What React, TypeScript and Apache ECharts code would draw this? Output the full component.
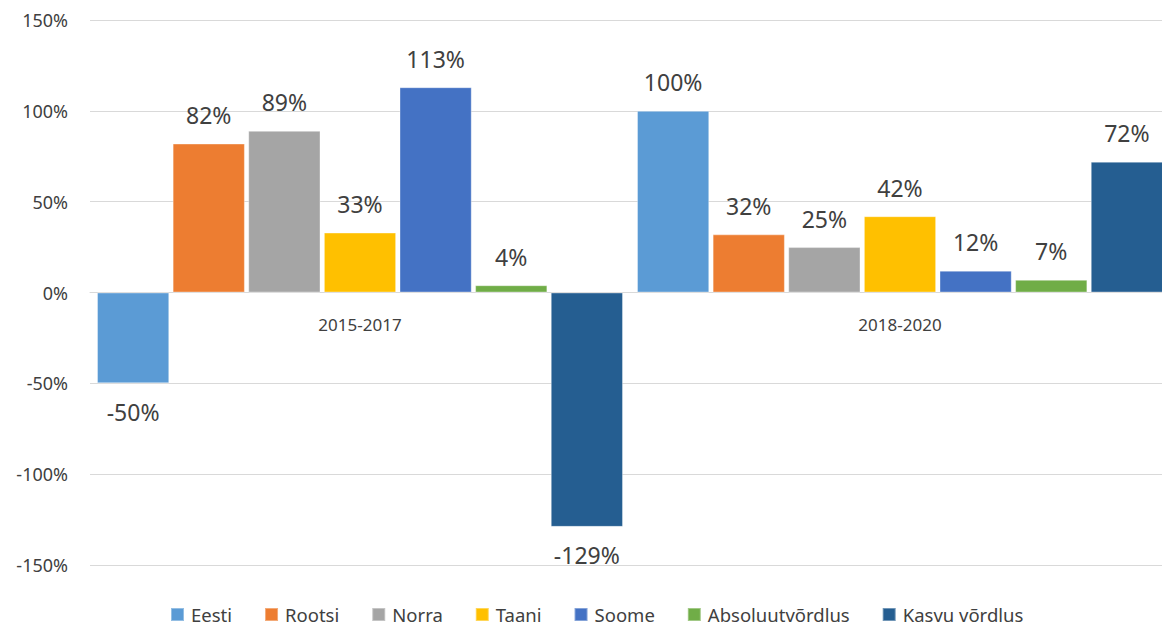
import React, { useEffect, useRef } from "react";
import * as echarts from "echarts";

const categories = ["2015-2017", "2018-2020"];
const seriesNames = ["Eesti", "Rootsi", "Norra", "Taani", "Soome", "Absoluutvõrdlus", "Kasvu võrdlus"];
const eesti = [-50, 100];
const rootsi = [82, 32];
const norra = [89, 25];
const taani = [33, 42];
const soome = [113, 12];
const absoluut = [4, 7];
const kasvu = [-129, 72];
const seriesValues = [eesti, rootsi, norra, taani, soome, absoluut, kasvu];
const colors = ["#5B9BD5", "#ED7D31", "#A5A5A5", "#FFC000", "#4472C4", "#70AD47", "#255E91"];
const yTicks = { min: -150, max: 150, interval: 50 };

const FONT = "'Noto Sans', 'Open Sans', sans-serif";

export default function App() {
  const ref = useRef<HTMLDivElement>(null);
  useEffect(() => {
    document.body.style.margin = "0";
    document.body.style.overflow = "hidden";
    const chart = echarts.init(ref.current!, null, { renderer: "svg" });
    chart.setOption({
      animation: false,
      textStyle: { fontFamily: FONT },
      grid: { left: 90, right: 0, top: 20, bottom: 61, outerBoundsMode: "none", containLabel: false },
      legend: {
        top: 600,
        left: 165,
        padding: 5,
        itemWidth: 13,
        itemHeight: 13,
        itemGap: 32,
        icon: "rect",
        textStyle: { fontSize: 18.5, color: "#404040", fontFamily: FONT, padding: [0, 0, 0, 2] },
        data: seriesNames,
      },
      xAxis: {
        type: "category",
        data: categories,
        offset: -273,
        axisLine: { onZero: false, lineStyle: { color: "#D9D9D9", width: 1 } },
        axisTick: { show: false },
        axisLabel: { fontSize: 17, color: "#404040", margin: 24, fontFamily: FONT },
      },
      yAxis: {
        type: "value",
        min: yTicks.min,
        max: yTicks.max,
        interval: yTicks.interval,
        axisLine: { show: false },
        axisTick: { show: false },
        splitLine: { lineStyle: { color: "#D9D9D9", width: 1 } },
        axisLabel: {
          fontSize: 18,
          color: "#404040",
          margin: 22,
          fontFamily: FONT,
          formatter: (v: number) => `${v}%`,
        },
      },
      series: seriesNames.map((name, i) => ({
        name,
        type: "bar",
        barGap: "4.7%",
        barCategoryGap: "2.6%",
        itemStyle: { color: colors[i], borderColor: "rgba(255,255,255,0.35)", borderWidth: 1 },
        label: {
          show: true,
          fontSize: 23,
          color: "#404040",
          fontFamily: FONT,
          formatter: (p: any) => `${p.value}%`,
        },
        data: seriesValues[i].map((v) => ({
          value: v,
          label: { position: v < 0 ? "bottom" : "top", distance: v < 0 ? 17 : 17 },
        })),
      })),
    });
    return () => chart.dispose();
  }, []);
  return (
    <div
      ref={ref}
      style={{ position: "absolute", left: 0, top: 0, width: 1170, height: 626 }}
    />
  );
}
